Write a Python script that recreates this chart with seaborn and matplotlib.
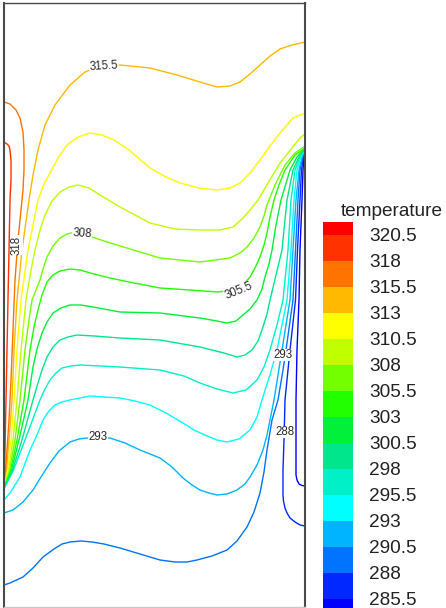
import numpy as np
import pandas as pd
import matplotlib
matplotlib.use("Agg")
import matplotlib.pyplot as plt
import seaborn as sns

# Cavity size (mm) and isotherm levels (K)
W, H = 301, 604
levels = [285.5, 288.0, 290.5, 293.0, 295.5, 298.0, 300.5,
          303.0, 305.5, 308.0, 310.5, 313.0, 315.5, 318.0, 320.5]
# flood colours of the bands, coldest first (band i lies just below levels[i])
band_colors = ['#0000FF', '#0028FF', '#0073FF', '#00B4FF', '#00FFFF', '#00F0C8',
               '#00E68C', '#00F03C', '#22FF00', '#73FF00', '#BFFF00', '#FFFF00',
               '#FFB900', '#FF7300', '#FF3200', '#FF0000']

# Isotherm traces (x, y in mm)
x_3205 = [0, 3, 5, 6, 7, 7, 6, 5, 4, 3, 2, 1, 0.5, 0]
y_3205 = [465, 463, 461, 457, 447, 427, 407, 357, 307, 257, 207, 157, 137, 129]

x_3180 = [0, 6, 12, 16, 19, 20, 20, 19, 17, 14, 11, 9, 7, 5, 3, 1.5, 0]
y_3180 = [505, 503, 497, 489, 475, 457, 437, 417, 397, 367, 327, 277, 227, 187, 157, 137, 127]

x_3155 = [0, 2.5, 5, 8, 10, 13, 18, 25, 29, 34, 41, 51, 66, 81, 96, 116, 146, 173, 196,
          213, 226, 236, 246, 256, 266, 276, 288, 301]
y_3155 = [126, 137, 167, 207, 257, 307, 357, 407, 432, 457, 482, 502, 522, 535, 541, 542, 539, 532, 525,
          520, 521, 525, 533, 542, 551, 558, 562, 565]

x_3130 = [0, 3.5, 7, 10, 13, 17, 24, 34, 40, 46, 54, 63, 74, 86, 98, 110, 125, 146, 160, 176, 195,
          213, 226, 236, 246, 256, 266, 276, 289, 301]
y_3130 = [125, 137, 167, 207, 257, 307, 357, 407, 423, 434, 449, 462, 470, 474, 472, 467, 457, 439, 431, 424, 419,
          417, 419, 424, 434, 447, 461, 474, 489, 494]

x_3105 = [0, 4.5, 9, 13, 17, 22, 27, 31, 36, 41, 48, 56, 65, 74, 85, 96, 116, 146, 171, 196,
          216, 229, 239, 246, 254, 264, 276, 288, 296, 301]
y_3105 = [124, 137, 167, 207, 257, 307, 337, 357, 377, 392, 406, 415, 420, 422, 419, 412, 400, 384, 378, 377,
          377, 380, 389, 397, 407, 424, 444, 459, 469, 473]

x_3080 = [0, 5.5, 11, 16, 21, 25, 28, 32, 36, 39, 43, 49, 56, 63, 71, 80, 88, 100, 113, 156, 196,
          226, 236, 243, 250, 256, 260, 263, 267, 271, 281, 291, 301]
y_3080 = [123, 137, 167, 207, 257, 287, 307, 317, 327, 338, 350, 361, 369, 373, 375, 373, 370, 366, 362, 349, 345,
          349, 354, 360, 369, 380, 391, 402, 412, 422, 442, 454, 461]

x_3055 = [0, 6.5, 13, 20, 26, 30, 34, 38, 43, 49, 56, 66, 76, 90, 106, 130, 156, 186, 213,
          224, 233, 240, 246, 251, 256, 260, 263, 266, 270, 275, 281, 291, 301]
y_3055 = [122, 137, 167, 207, 257, 280, 297, 312, 325, 332, 336, 338, 337, 333, 329, 324, 319, 317, 315,
          316, 319, 323, 330, 339, 350, 362, 374, 390, 407, 422, 437, 452, 459]

x_3030 = [0, 7.5, 15, 24, 29, 33, 38, 43, 49, 57, 66, 77, 89, 116, 156, 196, 213, 223,
          232, 239, 246, 253, 258, 261, 265, 268, 272, 277, 286, 293, 301]
y_3030 = [121, 137, 167, 207, 240, 258, 274, 285, 294, 299, 302, 302, 300, 295, 294, 289, 286, 284,
          286, 292, 298, 307, 318, 330, 343, 357, 382, 407, 437, 450, 459]

x_3005 = [0, 8.5, 18, 29, 34, 38, 43, 49, 56, 64, 73, 90, 116, 156, 196, 220, 233,
          241, 248, 254, 259, 263, 266, 272, 278, 283, 289, 295, 301]
y_3005 = [120, 137, 167, 207, 224, 237, 250, 260, 267, 270, 272, 271, 269, 267, 260, 254, 250,
          252, 257, 266, 280, 293, 307, 332, 357, 407, 437, 450, 459]

x_2980 = [0, 9.5, 21, 36, 41, 46, 52, 58, 67, 76, 96, 116, 156, 180, 196, 213, 229,
          242, 253, 260, 266, 273, 279, 284, 287, 291, 296, 301]
y_2980 = [118, 137, 167, 207, 218, 227, 234, 239, 241, 242, 241, 240, 237, 231, 224, 218, 214,
          217, 227, 240, 257, 282, 307, 357, 407, 437, 450, 459]

x_2955 = [0, 6, 16, 26, 33, 39, 45, 51, 58, 66, 76, 86, 100, 116, 131, 146, 162, 179, 190, 201,
          213, 223, 235, 246, 253, 258, 262, 266, 273, 278, 283, 287, 290, 293, 297, 301]
y_2955 = [107, 114, 130, 157, 172, 187, 196, 202, 205, 207, 209, 211, 210, 209, 206, 202, 194, 184, 177, 172,
          167, 165, 168, 177, 190, 207, 220, 232, 257, 282, 307, 357, 407, 437, 450, 458]

x_2930 = [0, 9, 19, 29, 37, 46, 55, 66, 75, 83, 95, 106, 121, 136, 156, 168, 179, 188, 196, 205,
          213, 223, 233, 241, 246, 253, 259, 263, 266, 270, 274, 278, 282, 286, 289, 292, 295, 298, 301]
y_2930 = [94, 97, 105, 117, 130, 144, 156, 165, 168, 169, 169, 169, 164, 157, 149, 140, 129, 122, 117, 114,
          112, 113, 117, 123, 130, 142, 157, 172, 187, 207, 232, 257, 282, 307, 357, 407, 437, 450, 457]

x_2905 = [0, 6, 19, 29, 39, 50, 58, 66, 77, 88, 100, 116, 136, 156, 171, 183, 193, 208,
          223, 233, 243, 250, 256, 260, 263, 268, 274, 279, 282, 289, 291.5, 294, 296, 299, 301]
y_2905 = [22, 24, 30, 39, 50, 58, 63, 65, 66, 65, 63, 59, 53, 47, 45, 45, 47, 51,
          57, 66, 80, 95, 114, 135, 157, 187, 207, 237, 257, 307, 357, 407, 437, 451, 457]

x_2880 = [301, 296, 291, 286, 283, 281, 279.5, 279, 279, 280, 281, 286, 291.5, 293.5, 296, 297.5, 299.5, 301]
y_2880 = [81, 82, 85, 89, 94, 99, 106, 112, 137, 167, 207, 257, 307, 357, 407, 437, 452, 458]

x_2855 = [301, 298, 295, 293, 292, 292, 292, 292, 293, 295, 296, 298, 299, 300, 301]
y_2855 = [121, 121.5, 123, 127, 132, 137, 167, 207, 257, 307, 357, 407, 437, 452, 458]

iso_x = [x_2855, x_2880, x_2905, x_2930, x_2955, x_2980, x_3005,
         x_3030, x_3055, x_3080, x_3105, x_3130, x_3155, x_3180, x_3205]
iso_y = [y_2855, y_2880, y_2905, y_2930, y_2955, y_2980, y_3005,
         y_3030, y_3055, y_3080, y_3105, y_3130, y_3155, y_3180, y_3205]

# Inline contour labels
label_vals = [315.5, 318.0, 308.0, 305.5, 293.0, 293.0, 288.0]
label_x = [100, 13, 78, 235, 94, 279, 281]
label_y = [541, 362, 373, 316, 170, 252, 175]
label_rot = [3, 90, -4, 22, 0, 0, 0]

sns.set_style("white")
plt.rcParams['font.family'] = ['Liberation Sans', 'DejaVu Sans']

frames = []
for lev, xs, ys in zip(levels, iso_x, iso_y):
    frames.append(pd.DataFrame({'x': xs, 'y': ys, 'level': lev,
                                'order': np.arange(len(xs))}))
df = pd.concat(frames, ignore_index=True)
line_palette = {lev: band_colors[i] for i, lev in enumerate(levels)}

fig = plt.figure(figsize=(4.46, 6.08), dpi=100)
ax = fig.add_axes([4 / 446, 1 / 608, 301 / 446, 604 / 608])
sns.lineplot(data=df, x='x', y='y', hue='level', units='level', estimator=None,
             sort=False, palette=line_palette, legend=False, linewidth=1.0, ax=ax)
ax.set_xlim(0, W)
ax.set_ylim(0, H)
ax.set_xticks([])
ax.set_yticks([])
ax.set_xlabel('')
ax.set_ylabel('')
for side in ['left', 'right']:
    ax.spines[side].set_color('#4a4a4a')
    ax.spines[side].set_linewidth(1.5)
ax.spines['top'].set_color('#4a4a4a')
ax.spines['top'].set_linewidth(1.0)
ax.spines['bottom'].set_color('#c8c8c8')
ax.spines['bottom'].set_linewidth(1.0)

for v, lx, ly, r in zip(label_vals, label_x, label_y, label_rot):
    ax.text(lx, ly, f"{v:g}", rotation=r, ha='center', va='center',
            rotation_mode='anchor', fontsize=8.3, color='#2a2a2a', zorder=5,
            bbox=dict(facecolor='white', edgecolor='none', pad=0.2))

# Legend: stacked flood bands with level labels at the band edges
step = 2.5
cax = fig.add_axes([323 / 446, -3.7 / 608, 30 / 446, 389.7 / 608])
edges = [levels[0] - step / 2] + levels + [levels[-1] + step / 2]
bottoms = edges[:-1]
heights = [b - a for a, b in zip(edges[:-1], edges[1:])]
cax.bar([0] * len(heights), heights, bottom=bottoms, width=1.0,
        color=band_colors, edgecolor='none', linewidth=0)
cax.set_xlim(-0.5, 0.5)
cax.set_ylim(edges[0], edges[-1])
cax.set_xticks([])
cax.yaxis.tick_right()
cax.set_yticks(levels)
cax.set_yticklabels([f"{v:g}" for v in levels])
cax.tick_params(axis='y', length=0, pad=11.5, labelsize=13.7, labelcolor='#222222')
for s in cax.spines.values():
    s.set_visible(False)
fig.text(341 / 446, 1 - 212 / 608, 'temperature', ha='left', va='center',
         fontsize=13.7, color='#222222')

fig.savefig('out.png', dpi=100)
